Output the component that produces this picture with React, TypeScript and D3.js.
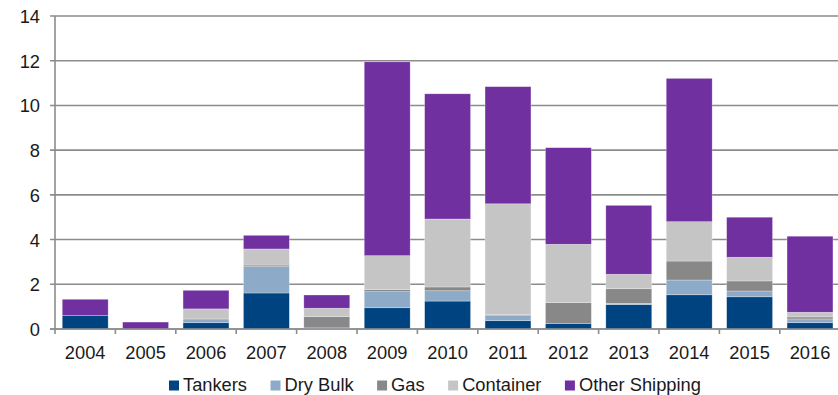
import React, { useEffect, useRef } from "react";
import * as d3 from "d3";

const years = ["2004", "2005", "2006", "2007", "2008", "2009", "2010", "2011", "2012", "2013", "2014", "2015", "2016"];
const tankers = [0.6, 0, 0.28, 1.61, 0, 0.95, 1.25, 0.37, 0.24, 1.09, 1.53, 1.44, 0.28];
const dryBulk = [0, 0, 0.17, 1.18, 0.05, 0.72, 0.46, 0.23, 0, 0.06, 0.66, 0.26, 0.17];
const gas = [0, 0, 0, 0.07, 0.5, 0.09, 0.17, 0.04, 0.94, 0.65, 0.85, 0.45, 0.09];
const container = [0, 0, 0.45, 0.72, 0.38, 1.52, 3.04, 4.96, 2.61, 0.65, 1.76, 1.06, 0.21];
const otherShipping = [0.73, 0.31, 0.83, 0.61, 0.59, 8.67, 5.6, 5.24, 4.32, 3.08, 6.41, 1.79, 3.4];

const seriesNames = ["Tankers", "Dry Bulk", "Gas", "Container", "Other Shipping"];
const seriesColors = ["#004381", "#8DABC9", "#888888", "#C5C5C5", "#7030A0"];
const yTicks = [0, 2, 4, 6, 8, 10, 12, 14];

const W = 838;
const H = 395;
const FONT = "'Liberation Sans', Arial, sans-serif";
const FONT_SIZE = 18.3;

export default function App() {
  const ref = useRef<SVGSVGElement>(null);

  useEffect(() => {
    const svg = d3.select(ref.current);
    svg.selectAll("*").remove();

    const keys = ["tankers", "dryBulk", "gas", "container", "other"];
    const rows = years.map((y, i) => ({
      year: y,
      tankers: tankers[i],
      dryBulk: dryBulk[i],
      gas: gas[i],
      container: container[i],
      other: otherShipping[i],
    }));

    const x = d3.scaleBand<string>().domain(years).range([55, 840.2]).paddingInner(0.24).paddingOuter(0.12);
    const y = d3.scaleLinear().domain([0, 14]).range([329, 16]);

    const gridColor = "#8c8c8c";

    // horizontal gridlines with small outward ticks
    svg.append("g")
      .selectAll("line")
      .data(yTicks)
      .join("line")
      .attr("x1", 50)
      .attr("x2", 840)
      .attr("y1", (d) => y(d))
      .attr("y2", (d) => y(d))
      .attr("stroke", gridColor)
      .attr("stroke-width", 1.6);

    // stacked bars
    const stacked = d3.stack<any>().keys(keys)(rows);
    svg.append("g")
      .selectAll("g")
      .data(stacked)
      .join("g")
      .attr("fill", (_, i) => seriesColors[i])
      .selectAll("rect")
      .data((s) => s.filter((d) => d[1] - d[0] > 0))
      .join("rect")
      .attr("x", (d) => x(d.data.year)!)
      .attr("width", x.bandwidth())
      .attr("y", (d) => y(d[1]))
      .attr("height", (d) => y(d[0]) - y(d[1]))
      .attr("stroke", "#ffffff")
      .attr("stroke-opacity", 0.45)
      .attr("stroke-width", 0.6);

    // y axis line
    svg.append("line")
      .attr("x1", 55).attr("x2", 55)
      .attr("y1", y(14)).attr("y2", y(0))
      .attr("stroke", gridColor).attr("stroke-width", 1.6);

    // x axis line and category boundary ticks
    svg.append("line")
      .attr("x1", 50).attr("x2", 840)
      .attr("y1", y(0)).attr("y2", y(0))
      .attr("stroke", gridColor).attr("stroke-width", 1.6);
    const step = x.step();
    svg.append("g")
      .selectAll("line")
      .data(d3.range(years.length + 1))
      .join("line")
      .attr("x1", (i) => 55 + i * step)
      .attr("x2", (i) => 55 + i * step)
      .attr("y1", y(0))
      .attr("y2", y(0) + 5)
      .attr("stroke", gridColor)
      .attr("stroke-width", 1.6);

    // y tick labels
    svg.append("g")
      .selectAll("text")
      .data(yTicks)
      .join("text")
      .attr("x", 40)
      .attr("y", (d) => y(d) + 7)
      .attr("text-anchor", "end")
      .attr("font-family", FONT)
      .attr("font-size", FONT_SIZE)
      .attr("fill", "#1a1a1a")
      .text((d) => d);

    // x tick labels
    svg.append("g")
      .selectAll("text")
      .data(years)
      .join("text")
      .attr("x", (d) => x(d)! + x.bandwidth() / 2)
      .attr("y", 358.5)
      .attr("text-anchor", "middle")
      .attr("font-family", FONT)
      .attr("font-size", FONT_SIZE)
      .attr("fill", "#1a1a1a")
      .text((d) => d);

    // legend
    const legend = svg.append("g");
    let cx = 169;
    seriesNames.forEach((name, i) => {
      legend.append("rect")
        .attr("x", cx).attr("y", 380.5)
        .attr("width", 10).attr("height", 10)
        .attr("fill", seriesColors[i]);
      const t = legend.append("text")
        .attr("x", cx + 14)
        .attr("y", 390.8)
        .attr("font-family", FONT)
        .attr("font-size", FONT_SIZE)
        .attr("fill", "#1a1a1a")
        .text(name);
      const w = (t.node() as SVGTextElement).getComputedTextLength();
      cx = cx + 14 + w + 23.5;
    });
  }, []);

  return (
    <svg
      ref={ref}
      width={W}
      height={H}
      style={{ position: "absolute", left: 0, top: 0, background: "#ffffff" }}
    />
  );
}
